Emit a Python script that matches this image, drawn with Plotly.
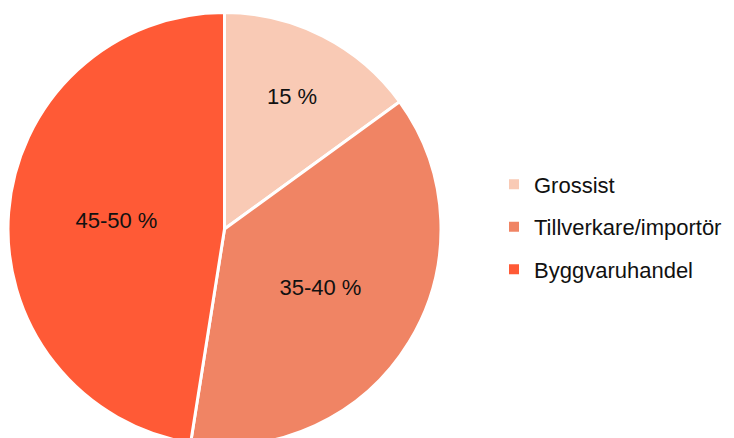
import plotly.graph_objects as go

categories = ["Grossist", "Tillverkare/importör", "Byggvaruhandel"]
values = [15, 37.5, 47.5]
slice_labels = ["15 %", "35-40 %", "45-50 %"]
colors = ["#F9CAB5", "#F08464", "#FF5A36"]

FONT = "Liberation Sans, Arial, sans-serif"

fig = go.Figure()
fig.add_trace(go.Pie(
    labels=categories,
    values=values,
    text=slice_labels,
    textinfo="text",
    textposition="inside",
    insidetextorientation="horizontal",
    insidetextfont=dict(color="#111111", size=22, family=FONT),
    marker=dict(colors=colors, line=dict(color="white", width=3)),
    sort=False,
    direction="clockwise",
    rotation=0,
    showlegend=False,
    domain=dict(x=[0.0, 433 / 734], y=[0.0, 1.0]),
    hoverinfo="label+text",
))

for i, (name, col) in enumerate(zip(categories, colors)):
    fig.add_trace(go.Scatter(
        x=[None], y=[None], mode="markers", name=name,
        marker=dict(symbol="square", size=10, color=col),
        legendgroup=f"g{i}", showlegend=True,
    ))

fig.update_layout(
    width=734, height=438,
    margin=dict(l=0, r=0, t=4, b=0, autoexpand=False),
    paper_bgcolor="white", plot_bgcolor="white",
    xaxis=dict(visible=False), yaxis=dict(visible=False),
    legend=dict(x=486 / 734, y=0.505, xanchor="left", yanchor="middle",
                font=dict(size=22, color="#111111", family=FONT),
                tracegroupgap=11, itemwidth=30, bgcolor="rgba(0,0,0,0)"),
)
fig.write_html("out.html")
